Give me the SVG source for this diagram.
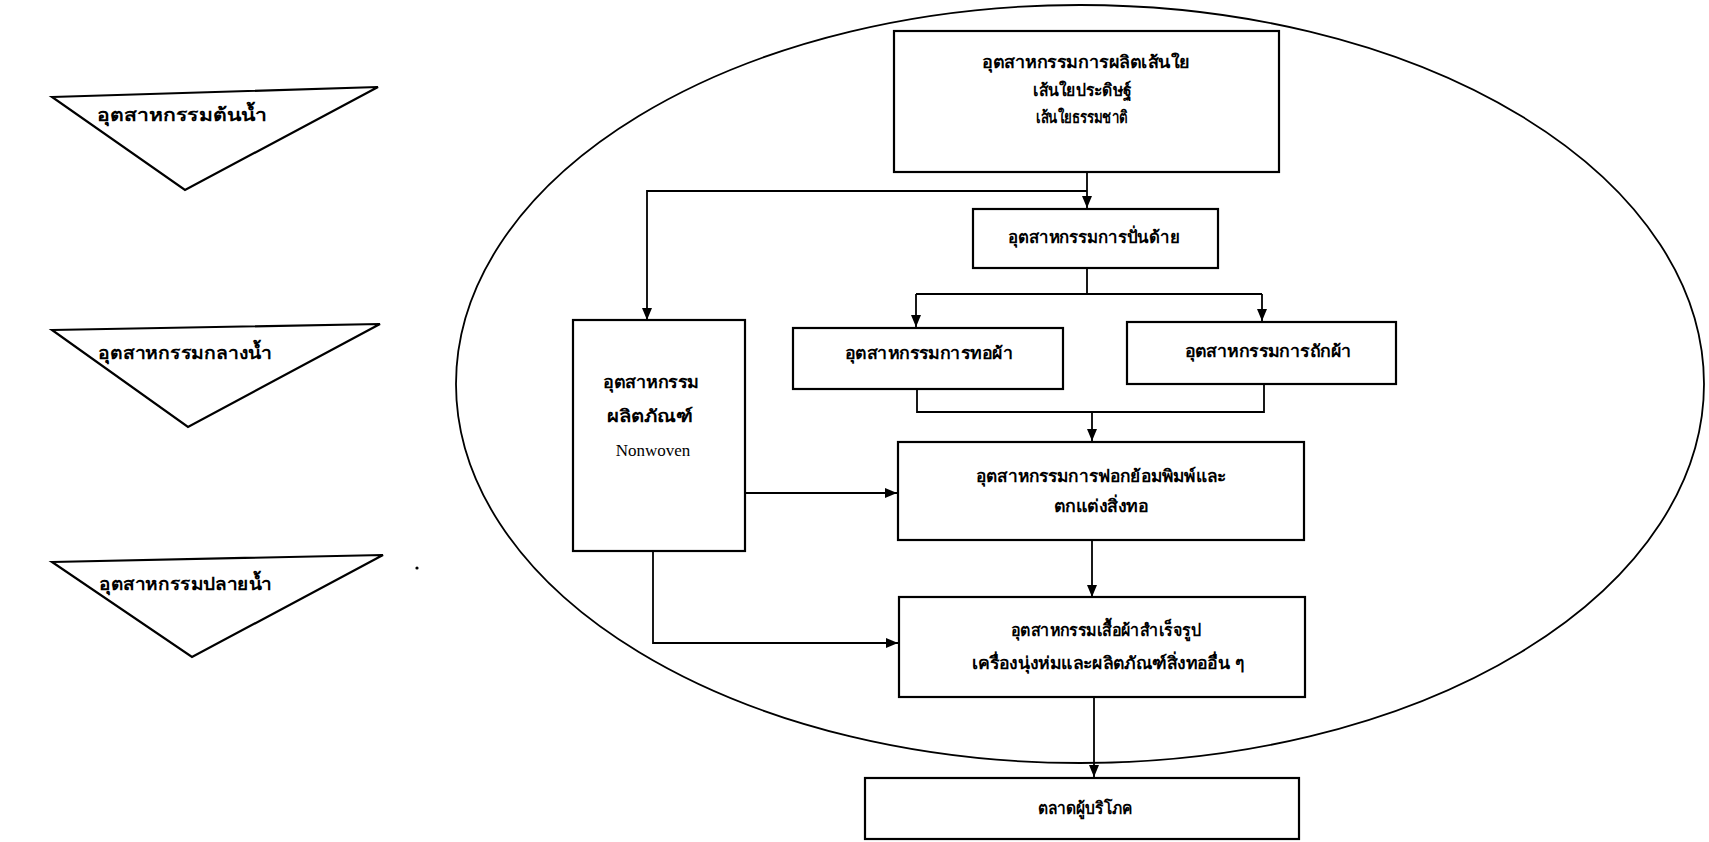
<svg xmlns="http://www.w3.org/2000/svg" width="1709" height="842" viewBox="0 0 1709 842">
  <style>
    .bg { fill: #ffffff; }
    .box { fill: #ffffff; stroke: #000000; stroke-width: 2.2; }
    .tri { fill: #ffffff; stroke: #000000; stroke-width: 2.2; stroke-linejoin: miter; }
    .oval { fill: none; stroke: #000000; stroke-width: 1.8; }
    .wire { fill: none; stroke: #000000; stroke-width: 1.8; }
    .th { font-family: "Noto Sans", "DejaVu Sans", "Liberation Sans", sans-serif; font-weight: bold; font-size: 17px; fill: #000000; text-anchor: middle; }
    .thl { font-family: "Noto Sans", "DejaVu Sans", "Liberation Sans", sans-serif; font-weight: bold; font-size: 18px; fill: #000000; }
    .en { font-family: "Liberation Serif", serif; font-size: 17px; fill: #000000; text-anchor: middle; }
  </style>
  <defs>
    <marker id="arrow" markerUnits="userSpaceOnUse" markerWidth="12" markerHeight="10" refX="12" refY="5" orient="auto">
      <path d="M0,0 L12,5 L0,10 z" fill="#000000"/>
    </marker>
  </defs>

  <rect class="bg" x="0" y="0" width="1709" height="842"/>

  <!-- stream stage markers on the left -->
  <g id="stage-upstream">
    <polygon class="tri" points="52,97 378,87 185,190"/>
    <text class="thl" x="97" y="121" textLength="170" lengthAdjust="spacingAndGlyphs">อุตสาหกรรมต้นน้ำ</text>
  </g>
  <g id="stage-midstream">
    <polygon class="tri" points="52,330 380,324 188,427"/>
    <text class="thl" x="98" y="359" textLength="174" lengthAdjust="spacingAndGlyphs">อุตสาหกรรมกลางน้ำ</text>
  </g>
  <g id="stage-downstream">
    <polygon class="tri" points="52,562 383,555 192,657"/>
    <text class="thl" x="99" y="590" textLength="173" lengthAdjust="spacingAndGlyphs">อุตสาหกรรมปลายน้ำ</text>
  </g>

  <!-- small printed speck -->
  <circle cx="417" cy="568" r="1.6" fill="#000000"/>

  <!-- industry boundary -->
  <ellipse class="oval" cx="1080" cy="384" rx="624" ry="379"/>

  <!-- connectors -->
  <g id="connectors">
    <path class="wire" d="M1087,172 V208" marker-end="url(#arrow)"/>
    <path class="wire" d="M1087,191 H647 V320" marker-end="url(#arrow)"/>
    <path class="wire" d="M1087,268 V294 M916,294 H1262"/>
    <path class="wire" d="M916,294 V327" marker-end="url(#arrow)"/>
    <path class="wire" d="M1262,294 V321" marker-end="url(#arrow)"/>
    <path class="wire" d="M917,389 V412 H1264 V384"/>
    <path class="wire" d="M1092,412 V441" marker-end="url(#arrow)"/>
    <path class="wire" d="M745,493 H897" marker-end="url(#arrow)"/>
    <path class="wire" d="M653,551 V643 H898" marker-end="url(#arrow)"/>
    <path class="wire" d="M1092,540 V597" marker-end="url(#arrow)"/>
    <path class="wire" d="M1094,697 V777" marker-end="url(#arrow)"/>
  </g>

  <g id="fiber">
    <rect class="box" x="894" y="31" width="385" height="141"/>
    <text class="th" x="1086" y="68" textLength="208" lengthAdjust="spacingAndGlyphs">อุตสาหกรรมการผลิตเส้นใย</text>
    <text class="th" x="1082" y="96" textLength="98" lengthAdjust="spacingAndGlyphs">เส้นใยประดิษฐ์</text>
    <text class="th" x="1082" y="123" textLength="92" lengthAdjust="spacingAndGlyphs">เส้นใยธรรมชาติ</text>
  </g>

  <g id="spinning">
    <rect class="box" x="973" y="209" width="245" height="59"/>
    <text class="th" x="1094" y="243" textLength="172" lengthAdjust="spacingAndGlyphs">อุตสาหกรรมการปั่นด้าย</text>
  </g>

  <g id="weaving">
    <rect class="box" x="793" y="328" width="270" height="61"/>
    <text class="th" x="929" y="359" textLength="168" lengthAdjust="spacingAndGlyphs">อุตสาหกรรมการทอผ้า</text>
  </g>

  <g id="knitting">
    <rect class="box" x="1127" y="322" width="269" height="62"/>
    <text class="th" x="1268" y="357" textLength="167" lengthAdjust="spacingAndGlyphs">อุตสาหกรรมการถักผ้า</text>
  </g>

  <g id="nonwoven">
    <rect class="box" x="573" y="320" width="172" height="231"/>
    <text class="th" x="651" y="388" textLength="96" lengthAdjust="spacingAndGlyphs">อุตสาหกรรม</text>
    <text class="th" x="650" y="422" textLength="86" lengthAdjust="spacingAndGlyphs">ผลิตภัณฑ์</text>
    <text class="en" x="653" y="456">Nonwoven</text>
  </g>

  <g id="finishing">
    <rect class="box" x="898" y="442" width="406" height="98"/>
    <text class="th" x="1101" y="482" textLength="250" lengthAdjust="spacingAndGlyphs">อุตสาหกรรมการฟอกย้อมพิมพ์และ</text>
    <text class="th" x="1101" y="512" textLength="94" lengthAdjust="spacingAndGlyphs">ตกแต่งสิ่งทอ</text>
  </g>

  <g id="garments">
    <rect class="box" x="899" y="597" width="406" height="100"/>
    <text class="th" x="1106" y="636" textLength="190" lengthAdjust="spacingAndGlyphs">อุตสาหกรรมเสื้อผ้าสำเร็จรูป</text>
    <text class="th" x="1108" y="669" textLength="272" lengthAdjust="spacingAndGlyphs">เครื่องนุ่งห่มและผลิตภัณฑ์สิ่งทออื่น ๆ</text>
  </g>

  <g id="consumer">
    <rect class="box" x="865" y="778" width="434" height="61"/>
    <text class="th" x="1085" y="814" textLength="94" lengthAdjust="spacingAndGlyphs">ตลาดผู้บริโภค</text>
  </g>
</svg>
